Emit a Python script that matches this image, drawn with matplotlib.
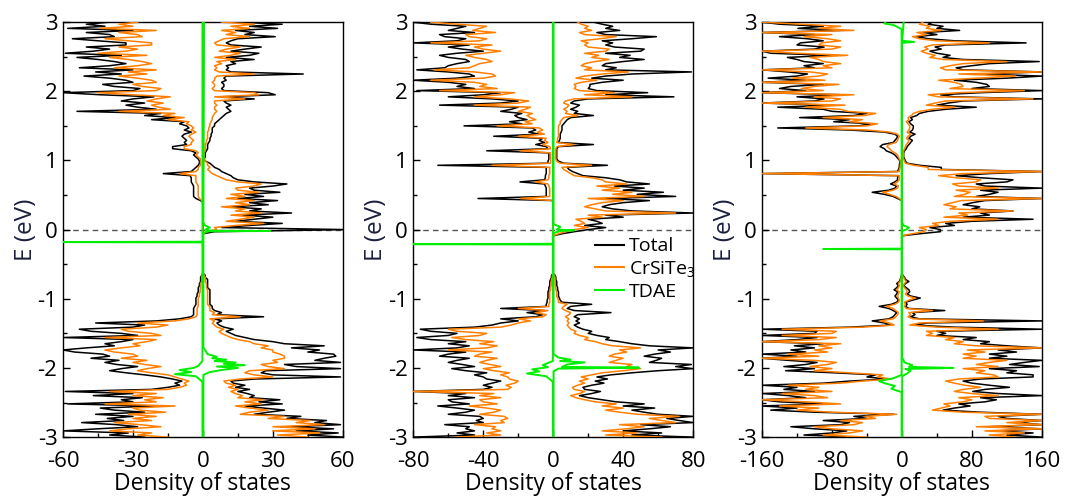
import numpy as np
import matplotlib
matplotlib.use("Agg")
import matplotlib.pyplot as plt
from matplotlib.ticker import MultipleLocator
from matplotlib.lines import Line2D

plt.rcParams['font.family'] = ['Open Sans', 'DejaVu Sans']
plt.rcParams['axes.unicode_minus'] = False
plt.rcParams['mathtext.default'] = 'regular'

# energy grid, -3 .. 3 eV in 0.03 eV steps (201 points)
energy = np.linspace(-3, 3, 201)

# ---------------- panel 1 ----------------
p1_total_up = [
    60, 45, 58, 40, 56, 38, 59, 48, 53, 36,
    42, 22, 28, 35, 26, 18, 34, 24, 33, 20,
    22, 19, 15, 20, 14, 18, 13, 12, 22, 59,
    30, 25, 27, 59, 40, 35, 59, 48, 52, 57,
    56, 45, 50, 38, 52, 35, 30, 22, 18, 14,
    12, 10, 13, 9, 7, 6, 8, 5, 26, 6,
    8, 5, 4, 4, 3, 3, 3, 3, 3, 3,
    3, 3, 2, 2, 2, 2, 2, 1, 1, 0,
    0, 0, 0, 0, 0, 0, 0, 0, 0, 0,
    0, 0, 0, 0, 0, 0, 0, 0, 0, 5,
    62, 8, 20, 34, 14, 22, 30, 17, 38, 20,
    25, 12, 28, 20, 32, 15, 26, 18, 33, 22,
    20, 30, 36, 22, 15, 13, 12, 10, 8, 7,
    5, 4, 3, 1, 0.5, 1, 1, 1, 1.5, 2,
    2, 2, 2.5, 3, 3, 3.5, 3.5, 4, 4, 4,
    5, 5, 6, 7, 8, 9, 10, 12, 11, 10,
    12, 10, 9, 22, 8, 31, 28, 9, 8, 9,
    9, 8, 10, 9, 10, 43, 12, 10, 11, 10,
    14, 12, 22, 10, 20, 24, 12, 18, 25, 12,
    10, 12, 15, 31, 18, 22, 14, 32, 20, 34,
    15]
p1_cst_up = [
    45, 32, 50, 30, 48, 30, 52, 40, 46, 28,
    35, 16, 20, 28, 20, 14, 25, 18, 26, 15,
    17, 14, 12, 15, 11, 14, 10, 9, 16, 30,
    22, 18, 20, 35, 28, 25, 32, 30, 35, 35,
    33, 30, 30, 25, 28, 22, 20, 15, 12, 10,
    8, 7, 9, 6, 5, 4, 5, 3, 16, 4,
    5, 3, 3, 3, 2, 2, 2, 2, 2, 2,
    2, 2, 1.5, 1.5, 1.5, 1, 1, 1, 0.5, 0,
    0, 0, 0, 0, 0, 0, 0, 0, 0, 0,
    0, 0, 0, 0, 0, 0, 0, 0, 0, 2,
    6, 5, 14, 26, 10, 16, 22, 12, 25, 14,
    18, 8, 20, 14, 22, 10, 18, 12, 24, 15,
    14, 22, 25, 15, 10, 8, 6, 4, 3, 2,
    3, 2, 2, 1, 0.5, 0.5, 0.5, 0.5, 1, 1,
    1, 1, 1.5, 1.5, 2, 2, 2, 2, 2.5, 2.5,
    3, 3, 3.5, 4, 4, 4.5, 5, 6, 5, 5,
    6, 5, 5, 18, 5, 24, 22, 5, 4, 5,
    5, 4, 5, 5, 6, 22, 7, 5, 6, 5,
    8, 6, 14, 5, 12, 16, 7, 10, 16, 6,
    5, 7, 9, 20, 10, 14, 8, 20, 12, 22,
    8]
p1_total_dn = [
    -25, -40, -32, -60, -45, -28, -37, -52, -34, -41,
    -30, -46, -25, -38, -44, -20, -58, -30, -35, -26,
    -47, -30, -59, -22, -15, -10, -12, -9, -13, -18,
    -25, -33, -40, -35, -28, -37, -42, -36, -48, -40,
    -43, -55, -60, -50, -38, -42, -35, -30, -60, -28,
    -35, -48, -53, -30, -25, -46, -20, -10, -5, -4,
    -4, -4, -4, -3.5, -3, -3, -3, -3, -2.5, -2.5,
    -2, -2, -2, -1.5, -1.5, -1, -1, -1, -0.5, 0,
    0, 0, 0, 0, 0, 0, 0, 0, 0, 0,
    0, 0, 0, 0, 0, 0, 0, 0, 0, 0,
    0, 0, 0, 0, 0, 0, 0, 0, 0, 0,
    0, 0, 0, 0, -1, -3, -4, -4, -4, -4,
    -4, -4, -4.5, -5, -5, -5, -5.5, -17, -5, -4,
    -3, -2, -1.5, -1.5, -2, -3, -4, -3, -5, -13,
    -13, -7, -8, -7, -8, -9, -8, -5, -8, -6,
    -7, -10, -8, -22, -12, -25, -18, -54, -20, -28,
    -33, -25, -35, -30, -21, -44, -60, -30, -27, -38,
    -43, -30, -33, -40, -51, -35, -46, -30, -53, -40,
    -33, -38, -45, -54, -35, -59, -47, -40, -50, -33,
    -33, -45, -56, -38, -40, -50, -30, -58, -42, -50,
    -40]
p1_cst_dn = [
    -15, -28, -22, -40, -32, -18, -27, -38, -22, -30,
    -20, -32, -16, -27, -30, -12, -42, -20, -25, -17,
    -30, -20, -40, -15, -10, -7, -8, -6, -9, -12,
    -15, -22, -28, -24, -18, -25, -30, -24, -35, -28,
    -30, -38, -42, -35, -27, -30, -24, -20, -42, -18,
    -22, -32, -35, -20, -15, -28, -12, -6, -3, -2.5,
    -2.5, -2.5, -2.5, -2, -2, -2, -2, -2, -1.5, -1.5,
    -1.2, -1.2, -1, -1, -1, -0.5, -0.5, -0.5, -0.3, 0,
    0, 0, 0, 0, 0, 0, 0, 0, 0, 0,
    0, 0, 0, 0, 0, 0, 0, 0, 0, 0,
    0, 0, 0, 0, 0, 0, 0, 0, 0, 0,
    0, 0, 0, 0, -0.5, -1.5, -2, -2, -2, -2,
    -2, -2, -2.5, -3, -3, -3, -3, -10, -3, -2,
    -2, -1, -1, -1, -1, -2, -3, -2, -3, -8,
    -8, -5, -5, -4, -5, -6, -5, -3, -5, -4,
    -5, -7, -6, -15, -8, -17, -12, -36, -14, -19,
    -22, -17, -24, -20, -14, -30, -45, -20, -18, -26,
    -30, -20, -22, -28, -36, -24, -32, -20, -38, -28,
    -22, -26, -32, -40, -24, -45, -33, -28, -36, -22,
    -22, -32, -42, -26, -28, -36, -20, -44, -30, -36,
    -28]
# TDAE, sampled where it departs from zero
p1_tdae_up_e = [-3.0, -2.1, -2.06, -2.03, -2.0, -1.98, -1.96, -1.94, -1.92, -1.9,
                -1.88, -1.86, -1.84, -1.8, -1.7, -0.05, -0.025, -0.02, -0.015,
                0.0, 0.03, 0.06, 0.1, 3.0]
p1_tdae_up = [0.2, 0.2, 3, 8, 15, 6, 18, 9, 14, 5,
              10, 4, 6, 2, 0.2, 0.2, 2, 29, 3,
              1, 3, 1, 0.2, 0.5]
p1_tdae_dn_e = [-3.0, -2.2, -2.12, -2.09, -2.06, -2.03, -2.0, -1.97, -1.9,
                -0.185, -0.18, -0.175, 3.0]
p1_tdae_dn = [-0.2, -0.2, -3, -12, -5, -10, -4, -2, -0.2,
              -0.2, -70, -0.2, -0.2]

# ---------------- panel 2 ----------------
p2_total_up = [
    80, 45, 62, 40, 55, 67, 50, 80, 72, 65,
    80, 60, 52, 45, 58, 40, 52, 36, 28, 20,
    15, 22, 27, 18, 17, 22, 29, 24, 31, 25,
    33, 45, 60, 80, 70, 79, 55, 59, 62, 52,
    58, 67, 60, 80, 55, 45, 38, 30, 32, 25,
    20, 22, 17, 14, 12, 15, 13, 15, 12, 14,
    33, 12, 8, 10, 22, 5, 4, 3.5, 3, 3,
    3, 2.5, 2.5, 2, 2, 2, 1.5, 1.5, 1, 0,
    0, 0, 0, 0, 0, 0, 0, 0, 0, 0,
    0, 0, 0, 0, 0, 0, 0, 0, 5, 12,
    20, 30, 18, 28, 25, 20, 40, 30, 80, 45,
    34, 28, 32, 40, 55, 30, 70, 48, 63, 40,
    52, 35, 55, 42, 38, 30, 17, 14, 11, 9,
    8, 31, 6, 3, 2, 2, 2, 2, 2, 2,
    3, 23, 3, 3.5, 4, 4, 4, 4.5, 5, 5,
    5, 6, 7, 8, 10, 23, 12, 14, 10, 13,
    15, 10, 12, 20, 69, 30, 54, 25, 20, 21,
    21, 28, 40, 22, 30, 45, 79, 30, 36, 28,
    30, 40, 52, 38, 44, 30, 50, 52, 35, 30,
    34, 28, 45, 59, 30, 25, 38, 30, 34, 28,
    23]
p2_cst_up = [
    62, 30, 48, 28, 42, 52, 38, 70, 62, 55,
    72, 48, 38, 30, 40, 28, 36, 24, 18, 13,
    10, 15, 18, 12, 11, 14, 18, 15, 20, 16,
    22, 28, 40, 50, 42, 45, 32, 36, 40, 32,
    35, 42, 38, 50, 34, 28, 24, 18, 20, 15,
    12, 13, 10, 9, 8, 9, 8, 9, 7, 9,
    10, 7, 5, 6, 8, 3, 3, 2.5, 2, 2,
    2, 1.5, 1.5, 1.2, 1.2, 1.2, 1, 1, 0.5, 0,
    0, 0, 0, 0, 0, 0, 0, 0, 0, 0,
    0, 0, 0, 0, 0, 0, 0, 0, 3, 7,
    12, 20, 12, 18, 16, 13, 28, 20, 70, 30,
    24, 18, 22, 28, 40, 20, 52, 34, 45, 28,
    38, 25, 42, 30, 28, 22, 12, 10, 8, 6,
    5, 22, 4, 2, 1.5, 1.5, 1.5, 1.5, 1.5, 1.5,
    2, 12, 2, 2.5, 2.5, 3, 3, 3, 3, 3,
    3, 4, 4, 5, 6, 14, 7, 8, 6, 8,
    9, 6, 7, 12, 45, 18, 35, 15, 12, 13,
    12, 16, 25, 13, 18, 28, 43, 18, 22, 16,
    18, 24, 32, 22, 26, 18, 30, 32, 20, 18,
    20, 16, 27, 36, 18, 15, 22, 18, 20, 16,
    14]
p2_total_dn = [
    -80, -45, -55, -45, -50, -48, -62, -40, -44, -40,
    -42, -60, -50, -45, -55, -66, -48, -58, -60, -45,
    -60, -50, -80, -40, -35, -40, -35, -30, -38, -40,
    -45, -38, -50, -58, -45, -52, -60, -55, -48, -65,
    -60, -50, -80, -55, -48, -60, -50, -70, -78, -60,
    -55, -70, -76, -45, -35, -30, -20, -30, -10, -6,
    -15, -5, -30, -4, -4, -3.5, -3.5, -3, -3, -3,
    -3, -2.5, -2.5, -2, -2, -2, -1.5, -1, -1, 0,
    0, 0, 0, 0, 0, 0, 0, 0, 0, 0,
    0, 0, 0, 0, 0, 0, 0, 0, 0, 0,
    0, 0, 0, 0, 0, 0, 0, 0, 0, 0,
    0, 0, 0, 0, 0, -43, -4, -4, -4, -4,
    -4, -4.5, -5, -19, -5, -4.5, -4.5, -4, -4, -4,
    -4, -66, -3, -3, -2.5, -2.5, -2.5, -2.5, -38, -3,
    -4, -10, -5, -8, -6, -34, -8, -14, -10, -12,
    -51, -18, -25, -15, -20, -22, -18, -30, -24, -20,
    -65, -30, -20, -35, -60, -40, -30, -78, -45, -55,
    -50, -60, -80, -55, -45, -48, -60, -78, -62, -60,
    -55, -48, -50, -60, -65, -55, -40, -52, -60, -48,
    -80, -55, -50, -62, -65, -45, -60, -55, -50, -70,
    -80]
p2_cst_dn = [
    -55, -30, -38, -30, -35, -33, -45, -28, -30, -26,
    -28, -42, -34, -30, -38, -48, -32, -40, -42, -30,
    -42, -34, -80, -26, -24, -27, -22, -20, -25, -26,
    -30, -25, -34, -40, -30, -36, -42, -38, -32, -45,
    -42, -35, -60, -38, -32, -42, -34, -50, -58, -42,
    -38, -55, -60, -30, -24, -20, -13, -20, -6, -4,
    -10, -3, -20, -2.5, -2.5, -2, -2, -2, -2, -2,
    -2, -1.5, -1.5, -1.2, -1.2, -1, -1, -0.5, -0.5, 0,
    0, 0, 0, 0, 0, 0, 0, 0, 0, 0,
    0, 0, 0, 0, 0, 0, 0, 0, 0, 0,
    0, 0, 0, 0, 0, 0, 0, 0, 0, 0,
    0, 0, 0, 0, 0, -19, -2, -2, -2, -2,
    -2, -2.5, -3, -10, -3, -2.5, -2.5, -2, -2, -2,
    -2, -35, -1.5, -1.5, -1.5, -1.5, -1.5, -1.5, -19, -1.5,
    -2, -6, -3, -5, -4, -20, -5, -9, -6, -8,
    -32, -12, -16, -10, -13, -15, -12, -20, -16, -13,
    -45, -20, -14, -25, -45, -30, -22, -65, -32, -42,
    -38, -45, -70, -40, -33, -35, -45, -68, -48, -45,
    -42, -35, -38, -45, -50, -40, -30, -40, -45, -35,
    -70, -42, -38, -48, -50, -33, -46, -42, -38, -55,
    -70]
p2_tdae_up_e = [-3.0, -2.05, -2.01, -1.995, -1.985, -1.95, -1.92, -1.9, -1.88,
                -1.85, -1.8, -0.05, -0.02, -0.01, 0.0, 0.04, 0.08, 3.0]
p2_tdae_up = [0.2, 0.2, 3, 49, 5, 8, 18, 4, 10,
              3, 0.2, 0.2, 4, 12, 2, 4, 0.2, 0.2]
p2_tdae_dn_e = [-3.0, -2.2, -2.12, -2.08, -2.05, -2.02, -1.99, -1.96, -1.9,
                -0.215, -0.21, -0.205, 3.0]
p2_tdae_dn = [-0.2, -0.2, -4, -15, -8, -12, -3, -6, -0.2,
              -0.2, -95, -0.2, -0.2]

# ---------------- panel 3 ----------------
p3_total_up = [
    160, 120, 150, 110, 160, 100, 160, 130, 160, 120,
    110, 160, 90, 47, 60, 78, 65, 95, 108, 90,
    160, 110, 81, 95, 123, 100, 80, 70, 90, 150,
    150, 120, 131, 100, 157, 123, 140, 160, 100, 120,
    100, 131, 110, 160, 120, 90, 100, 70, 85, 40,
    50, 40, 160, 60, 13, 30, 160, 20, 10, 15,
    12, 49, 8, 4, 6, 4, 12, 21, 10, 6,
    9, 8, 5, 2, 4, 8, 4, 3, 1, 0,
    0, 0, 0, 0, 0, 0, 0, 0, 0, 0,
    0, 0, 0, 0, 0, 0, 0, 0, 20, 44,
    44, 32, 60, 50, 80, 150, 70, 100, 90, 127,
    80, 89, 70, 81, 95, 160, 85, 100, 110, 90,
    160, 95, 85, 120, 127, 90, 62, 100, 160, 45,
    45, 20, 6, 4, 3, 2, 2, 2, 3, 5,
    6, 8, 10, 12, 8, 10, 15, 9, 12, 13,
    13, 10, 8, 12, 10, 17, 20, 30, 50, 85,
    40, 53, 70, 160, 60, 44, 90, 160, 80, 100,
    97, 85, 60, 120, 160, 90, 160, 70, 62, 80,
    100, 157, 70, 47, 55, 40, 32, 45, 38, 50,
    142, 60, 30, 17, 40, 25, 66, 40, 47, 30,
    35]
p3_cst_up = [
    130, 100, 140, 95, 160, 85, 160, 120, 160, 100,
    95, 160, 70, 35, 45, 55, 48, 70, 80, 65,
    110, 80, 60, 70, 90, 72, 60, 50, 65, 110,
    105, 85, 95, 70, 110, 85, 100, 120, 70, 85,
    70, 95, 75, 160, 85, 60, 70, 50, 60, 28,
    35, 28, 110, 40, 9, 20, 93, 13, 7, 10,
    8, 35, 5, 3, 4, 3, 8, 15, 7, 4,
    6, 5, 3, 1.5, 3, 5, 3, 2, 0.5, 0,
    0, 0, 0, 0, 0, 0, 0, 0, 0, 0,
    0, 0, 0, 0, 0, 0, 0, 0, 12, 25,
    28, 20, 42, 35, 55, 110, 48, 75, 65, 127,
    55, 62, 48, 58, 68, 160, 60, 72, 78, 62,
    110, 65, 58, 85, 90, 62, 42, 70, 160, 30,
    30, 14, 4, 3, 2, 1.5, 1.5, 1.5, 2, 3,
    4, 5, 7, 8, 5, 7, 10, 6, 8, 9,
    9, 7, 5, 8, 7, 11, 13, 20, 35, 60,
    28, 38, 50, 150, 42, 30, 65, 140, 55, 70,
    68, 60, 42, 85, 130, 65, 160, 50, 44, 55,
    70, 120, 48, 32, 38, 28, 22, 30, 26, 35,
    100, 40, 20, 12, 28, 17, 45, 28, 32, 20,
    24]
p3_total_dn = [
    -51, -112, -80, -63, -100, -127, -70, -60, -90, -40,
    -55, -9, -100, -150, -120, -160, -90, -140, -160, -110,
    -130, -160, -100, -135, -120, -160, -90, -60, -17, -40,
    -30, -78, -133, -100, -135, -110, -97, -130, -160, -120,
    -160, -110, -127, -100, -123, -90, -160, -120, -97, -160,
    -100, -97, -160, -60, -13, -20, -34, -15, -10, -8,
    -6, -10, -15, -26, -12, -6, -4, -6, -8, -6,
    -5, -9, -6, -4, -6, -3, -2, -1, -0.5, 0,
    0, 0, 0, 0, 0, 0, 0, 0, 0, 0,
    0, 0, 0, 0, 0, 0, 0, 0, 0, 0,
    0, 0, 0, 0, 0, 0, 0, 0, 0, 0,
    0, 0, 0, 0, 0, -5, -10, -20, -34, -15,
    -8, -6, -13, -8, -5, -5, -4, -160, -5, -4,
    -3, -3, -2.5, -2, -4, -6, -8, -12, -18, -20,
    -25, -22, -10, -8, -6, -5, -8, -20, -60, -142,
    -50, -35, -78, -60, -117, -55, -40, -80, -90, -142,
    -80, -160, -100, -89, -120, -70, -160, -110, -140, -127,
    -90, -160, -110, -153, -120, -108, -130, -160, -100, -112,
    -90, -112, -120, -131, -80, -150, -160, -100, -89, -120,
    -116, -90, -108, -140, -100, -160, -70, -119, -90, -140,
    -160]
p3_cst_dn = [
    -40, -90, -60, -45, -80, -100, -55, -45, -70, -30,
    -42, -6, -80, -120, -95, -140, -70, -110, -160, -85,
    -100, -137, -80, -110, -95, -130, -70, -45, -12, -28,
    -22, -60, -100, -80, -105, -85, -75, -100, -160, -95,
    -130, -85, -100, -80, -95, -70, -160, -95, -75, -137,
    -80, -75, -137, -45, -9, -14, -25, -10, -7, -5,
    -4, -7, -10, -18, -8, -4, -3, -4, -5, -4,
    -3, -6, -4, -3, -4, -2, -1.5, -0.5, -0.3, 0,
    0, 0, 0, 0, 0, 0, 0, 0, 0, 0,
    0, 0, 0, 0, 0, 0, 0, 0, 0, 0,
    0, 0, 0, 0, 0, 0, 0, 0, 0, 0,
    0, 0, 0, 0, 0, -3, -7, -14, -22, -10,
    -5, -4, -9, -5, -3, -3, -3, -160, -3, -3,
    -2, -2, -1.5, -1.5, -3, -4, -5, -8, -12, -14,
    -17, -15, -7, -5, -4, -3, -5, -14, -40, -110,
    -40, -28, -60, -45, -90, -42, -30, -62, -70, -110,
    -65, -160, -80, -70, -100, -55, -160, -90, -115, -100,
    -72, -160, -88, -125, -95, -85, -105, -160, -80, -90,
    -70, -90, -95, -105, -62, -120, -160, -80, -70, -95,
    -92, -70, -85, -112, -80, -160, -55, -95, -70, -115,
    -160]
p3_tdae_up_e = [-3.0, -2.12, -2.08, -2.04, -2.015, -2.0, -1.985, -1.96, -1.92,
                -1.85, -0.02, 0.0, 0.03, 0.06, 0.1, 2.7, 2.715, 2.73, 3.0]
p3_tdae_up = [0.3, 0.3, 6, 10, 4, 59, 8, 12, 3,
              0.3, 0.3, 5, 8, 2, 0.3, 0.3, 14, 0.3, 2]
p3_tdae_dn_e = [-3.0, -2.35, -2.3, -2.26, -2.22, -2.19, -2.15, -2.1,
                -0.285, -0.28, -0.275, 2.9, 2.96, 2.98, 3.0]
p3_tdae_dn = [-0.3, -0.3, -12, -8, -20, -26, -10, -0.3,
              -0.3, -90, -0.3, -0.3, -10, -20, -19]

x_limits = [60, 80, 160]
x_major = [30, 40, 80]
x_minor = [15, 20, 40]
axes_left = [0.059, 0.387, 0.7135]

BLACK = "black"
ORANGE = "#ff7f00"
GREEN = "#00ee00"


def draw_panel(ax, lim, major, minor, tot_up, tot_dn, cst_up, cst_dn,
               g_up_e, g_up, g_dn_e, g_dn):
    ax.plot(tot_up, energy, color=BLACK, lw=1.1, zorder=2)
    ax.plot(tot_dn, energy, color=BLACK, lw=1.1, zorder=2)
    ax.plot(cst_up, energy, color=ORANGE, lw=1.1, zorder=3)
    ax.plot(cst_dn, energy, color=ORANGE, lw=1.1, zorder=3)
    ax.plot(g_up, g_up_e, color=GREEN, lw=1.4, zorder=4)
    ax.plot(g_dn, g_dn_e, color=GREEN, lw=1.4, zorder=4)
    # Fermi level
    ax.axhline(0, color="#555555", lw=1.0, ls=(0, (4, 3)), zorder=1)

    ax.set_xlim(-lim, lim)
    ax.set_ylim(-3, 3)
    ax.xaxis.set_major_locator(MultipleLocator(major))
    ax.xaxis.set_minor_locator(MultipleLocator(minor))
    ax.yaxis.set_major_locator(MultipleLocator(1))
    ax.yaxis.set_minor_locator(MultipleLocator(0.5))
    ax.tick_params(which="both", direction="in", top=False, right=False,
                   labelsize=16)
    ax.tick_params(axis="x", pad=10)
    ax.tick_params(axis="y", pad=4)
    ax.tick_params(which="major", length=5, width=1)
    ax.tick_params(which="minor", length=3, width=1)
    for s in ax.spines.values():
        s.set_linewidth(1.0)
    ax.set_xlabel("Density of states", fontsize=16.5, labelpad=0)
    ax.set_ylabel("E (eV)", fontsize=17.5, labelpad=0, color="#1a1f3d")


fig = plt.figure(figsize=(10.68, 5.03), dpi=100)

data = [
    (p1_total_up, p1_total_dn, p1_cst_up, p1_cst_dn,
     p1_tdae_up_e, p1_tdae_up, p1_tdae_dn_e, p1_tdae_dn),
    (p2_total_up, p2_total_dn, p2_cst_up, p2_cst_dn,
     p2_tdae_up_e, p2_tdae_up, p2_tdae_dn_e, p2_tdae_dn),
    (p3_total_up, p3_total_dn, p3_cst_up, p3_cst_dn,
     p3_tdae_up_e, p3_tdae_up, p3_tdae_dn_e, p3_tdae_dn),
]

axes = []
for k in range(3):
    ax = fig.add_axes([axes_left[k], 0.131, 0.262, 0.825])
    draw_panel(ax, x_limits[k], x_major[k], x_minor[k], *data[k])
    axes.append(ax)

# legend in the middle panel
handles = [Line2D([], [], color=BLACK, lw=1.5),
           Line2D([], [], color=ORANGE, lw=1.5),
           Line2D([], [], color=GREEN, lw=1.5)]
axes[1].legend(handles, ["Total", "CrSiTe$_3$", "TDAE"], loc="upper left",
               bbox_to_anchor=(0.62, 0.5), frameon=False, fontsize=14,
               handlelength=1.5, handletextpad=0.25, labelspacing=0.2,
               borderaxespad=0)

fig.savefig("out.png", dpi=100)
